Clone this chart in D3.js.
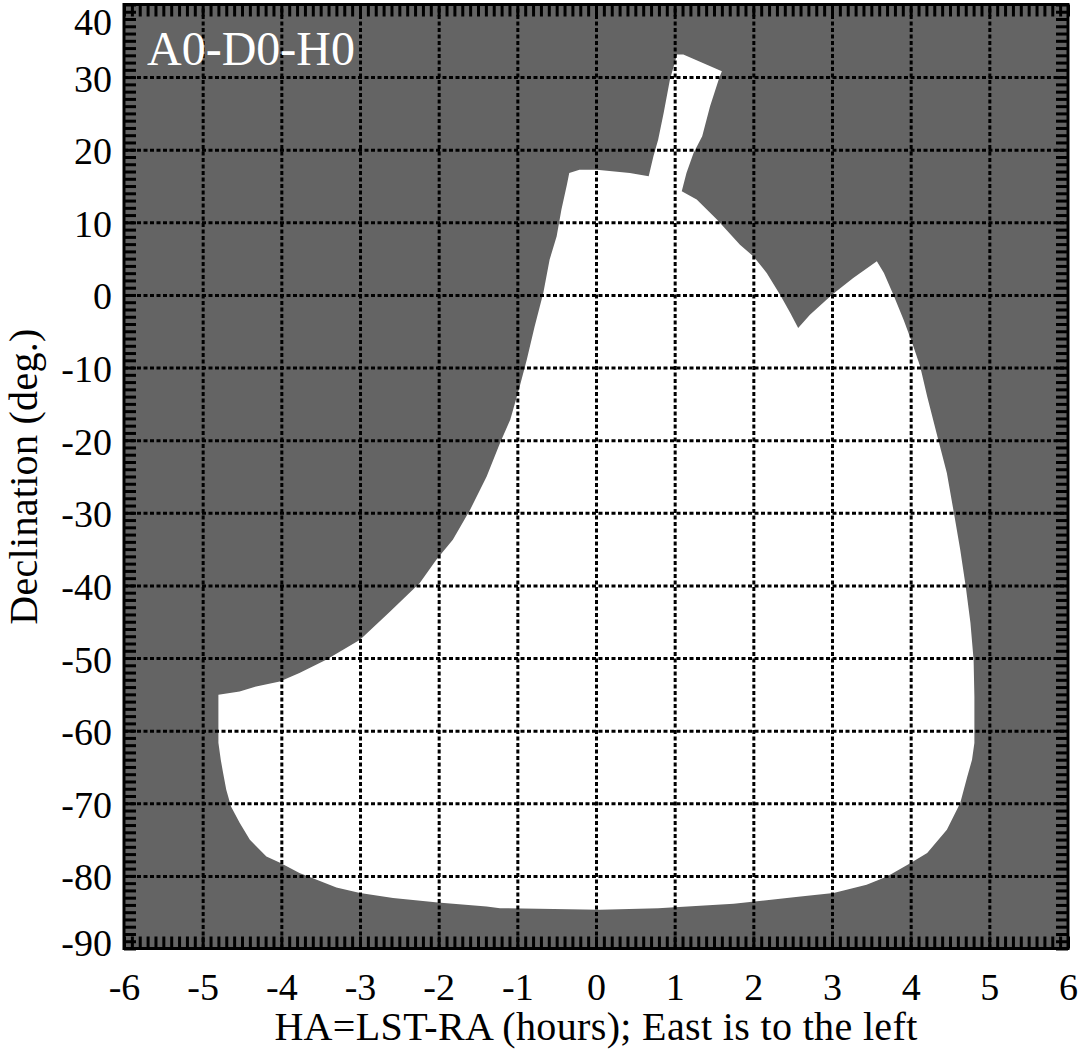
<!DOCTYPE html>
<html><head><meta charset="utf-8">
<script src="https://cdn.jsdelivr.net/npm/d3@7"></script>
<style>html,body{margin:0;padding:0;background:#fff;}svg{display:block;}</style>
</head><body>
<svg id="chart" width="1078" height="1050"></svg>
<script>
// ---- data ----
const title = "A0-D0-H0";
const xLabel = "HA=LST-RA (hours); East is to the left";
const yLabel = "Declination (deg.)";
const xTicks = [-6,-5,-4,-3,-2,-1,0,1,2,3,4,5,6];
const yTicks = [-90,-80,-70,-60,-50,-40,-30,-20,-10,0,10,20,30,40];
// observable region boundary: hour angle (hours)
const regionHA = [-4.80,-4.53,-4.32,-4.02,-3.77,-3.43,-3.00,-2.62,-2.24,-2.03,-1.82,-1.60,-1.39,-1.22,-1.09,-0.97,-0.88,-0.78,-0.67,-0.59,-0.50,-0.44,-0.37,-0.34,-0.21,0.01,0.43,0.67,0.73,0.79,0.86,0.94,1.03,1.11,1.41,1.60,1.56,1.45,1.35,1.24,1.15,1.09,1.28,1.54,1.83,2.00,2.17,2.34,2.47,2.57,2.72,3.00,3.27,3.57,3.66,3.78,3.91,4.02,4.12,4.21,4.34,4.46,4.55,4.63,4.70,4.76,4.80,4.81,4.81,4.78,4.72,4.63,4.46,4.21,4.00,3.70,3.44,3.02,2.60,1.75,0.79,0.05,-1.22,-1.39,-2.01,-2.58,-3.00,-3.30,-3.55,-3.77,-4.01,-4.19,-4.40,-4.53,-4.64,-4.70,-4.74,-4.77,-4.80];
// observable region boundary: declination (deg)
const regionDec = [-55.05,-54.60,-53.91,-53.22,-52.07,-50.23,-47.48,-43.62,-39.67,-36.46,-33.71,-29.57,-24.99,-20.39,-17.18,-12.59,-8.91,-4.33,0.28,4.86,8.07,11.75,15.19,16.80,17.26,17.26,16.80,16.34,19.09,21.39,25.07,29.66,33.10,33.10,31.72,30.80,29.66,25.98,21.85,19.56,16.80,14.27,13.13,10.37,6.93,5.32,3.03,0.04,-2.48,-4.55,-2.71,0.04,2.34,4.63,3.03,0.04,-3.40,-6.61,-9.83,-13.97,-19.48,-24.52,-30.03,-35.08,-40.14,-45.18,-50.23,-55.29,-61.71,-64.01,-66.31,-69.97,-73.65,-76.86,-78.24,-80.08,-81.23,-82.37,-82.84,-83.84,-84.44,-84.67,-84.44,-84.21,-83.66,-83.06,-82.37,-81.60,-80.54,-79.61,-78.24,-77.33,-75.03,-72.69,-70.44,-68.14,-65.84,-64.01,-61.67];

// ---- drawing ----
const svg = d3.select("#chart");
const L = 124, R = 1068, T = 4.5, B = 948.5;
const x = d3.scaleLinear().domain([-6, 6]).range([L, R]);
const y = d3.scaleLinear().domain([-90, 40]).range([B, T]);
const serif = "'Liberation Serif','Times New Roman',Times,serif";

svg.append("rect").attr("x", L).attr("y", T).attr("width", R - L).attr("height", B - T)
  .attr("fill", "#646464");

const pts = regionHA.map((h, i) => [h, regionDec[i]]);
svg.append("path").datum(pts)
  .attr("d", d3.line().x(d => x(d[0])).y(d => y(d[1])).curve(d3.curveLinearClosed))
  .attr("fill", "#ffffff").attr("stroke", "none");

// grid lines (dashed)
const gx = svg.append("g").attr("transform", `translate(0,${B})`)
  .call(d3.axisBottom(x).tickValues(xTicks.slice(1, -1)).tickSize(-(B - T)).tickFormat(""));
const gy = svg.append("g").attr("transform", `translate(${L},0)`)
  .call(d3.axisLeft(y).tickValues(yTicks.slice(1, -1)).tickSize(-(R - L)).tickFormat(""));
[gx, gy].forEach(g => {
  g.select(".domain").remove();
  g.selectAll(".tick line").attr("stroke", "#000").attr("stroke-width", 3)
    .attr("stroke-dasharray", "4,2.5");
});

// minor ticks
const minorX = d3.range(-60, 61).map(v => v / 10);
const minorY = d3.range(-90, 41);
const tl = 12;
const mb = svg.append("g").attr("transform", `translate(0,${B})`)
  .call(d3.axisBottom(x).tickValues(minorX).tickSize(-tl).tickFormat(""));
const mt = svg.append("g").attr("transform", `translate(0,${T})`)
  .call(d3.axisTop(x).tickValues(minorX).tickSize(-tl).tickFormat(""));
const ml = svg.append("g").attr("transform", `translate(${L},0)`)
  .call(d3.axisLeft(y).tickValues(minorY).tickSize(-tl).tickFormat(""));
const mr = svg.append("g").attr("transform", `translate(${R},0)`)
  .call(d3.axisRight(y).tickValues(minorY).tickSize(-tl).tickFormat(""));
[mb, mt, ml, mr].forEach(g => {
  g.select(".domain").remove();
  g.selectAll(".tick line").attr("stroke", "#000").attr("stroke-width", 3);
});

// frame
svg.append("rect").attr("x", L).attr("y", T).attr("width", R - L).attr("height", B - T)
  .attr("fill", "none").attr("stroke", "#000").attr("stroke-width", 3);

// tick labels
const lx = svg.append("g").attr("transform", `translate(0,${B})`)
  .call(d3.axisBottom(x).tickValues(xTicks).tickSize(0).tickPadding(0).tickFormat(d => String(d)));
lx.select(".domain").remove();
lx.selectAll("text").attr("y", 51.5).attr("dy", null)
  .attr("font-family", serif).attr("font-size", 38).attr("fill", "#000");

const ly = svg.append("g").attr("transform", `translate(${L},0)`)
  .call(d3.axisLeft(y).tickValues(yTicks).tickSize(0).tickPadding(0).tickFormat(d => String(d)));
ly.select(".domain").remove();
ly.selectAll("text").attr("x", -12)
  .attr("dy", d => d === 40 ? 30 : (d === -90 ? 7 : 14))
  .attr("font-family", serif).attr("font-size", 38).attr("fill", "#000");

// axis titles
svg.append("text").attr("x", (L + R) / 2).attr("y", 1040).attr("text-anchor", "middle")
  .attr("font-family", serif).attr("font-size", 40).attr("letter-spacing", 0.35)
  .attr("fill", "#000").text(xLabel);
svg.append("text").attr("transform", `translate(37,${(T + B) / 2}) rotate(-90)`)
  .attr("text-anchor", "middle")
  .attr("font-family", serif).attr("font-size", 40).attr("letter-spacing", 0.3)
  .attr("fill", "#000").text(yLabel);

// panel title
svg.append("text").attr("x", 147).attr("y", 65)
  .attr("font-family", serif).attr("font-size", 48).attr("fill", "#fff").text(title);
</script>
</body></html>
